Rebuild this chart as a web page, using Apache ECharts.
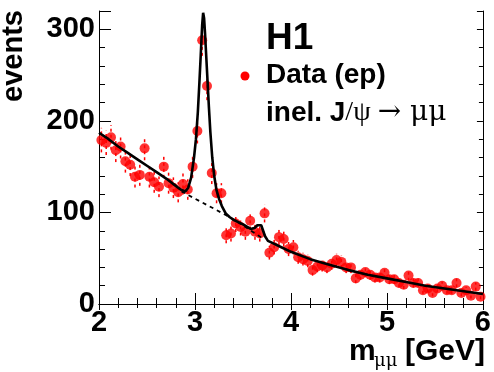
<!DOCTYPE html>
<html><head><meta charset="utf-8">
<script src="https://cdn.jsdelivr.net/npm/echarts@6/dist/echarts.min.js"></script>
<style>html,body{margin:0;padding:0;background:#fff}#c{width:494px;height:372px}</style>
</head><body><div id="c"></div>
<script>
// bin centres (GeV)
var xs = [2.025,2.075,2.125,2.175,2.225,2.275,2.325,2.375,2.425,2.475,2.525,2.575,2.625,2.675,2.725,2.775,2.825,2.875,2.925,2.975,
          3.025,3.075,3.125,3.175,3.225,3.275,3.325,3.375,3.425,3.475,3.525,3.575,3.625,3.675,3.725,3.775,3.825,3.875,3.925,3.975,
          4.025,4.075,4.125,4.175,4.225,4.275,4.325,4.375,4.425,4.475,4.525,4.575,4.625,4.675,4.725,4.775,4.825,4.875,4.925,4.975,
          5.025,5.075,5.125,5.175,5.225,5.275,5.325,5.375,5.425,5.475,5.525,5.575,5.625,5.675,5.725,5.775,5.825,5.875,5.925,5.975];
// events per bin
var vals = [179,176,182,168,172,156,152,139,141,170,139,133,128,150,132,127,122,131,125,150,
            189,288,238,143,121,121,75,77,88,84,79,91,79,77,99,56,62,73,71,60,
            62,51,49,47,37,41,42,40,44,48,46,40,40,28,32,35,32,29,29,34,
            27,27,23,21,31,23,23,15,17,12,17,20,15,15,23,12,15,9,19,8];
// errors
var errs = [13.4,13.3,13.5,13.0,13.1,12.5,12.3,11.8,11.9,13.0,11.8,11.5,11.3,12.2,11.5,11.3,11.0,11.4,11.2,12.2,
            13.7,17.0,15.4,12.0,11.0,11.0,8.7,8.8,9.4,9.2,8.9,9.5,8.9,8.8,9.9,7.5,7.9,8.5,8.4,7.7,
            7.9,7.1,7.0,6.9,6.1,6.4,6.5,6.3,6.6,6.9,6.8,6.3,6.3,5.3,5.7,5.9,5.7,5.4,5.4,5.8,
            5.2,5.2,4.8,4.6,5.6,4.8,4.8,3.9,4.1,3.5,4.1,4.5,3.9,3.9,4.8,3.5,3.9,3.0,4.4,2.8];
// total fit curve
var fitX = [2.0,2.1,2.2,2.3,2.4,2.5,2.6,2.7,2.8,2.85,2.9,2.93,2.96,2.99,3.01,3.03,3.045,3.06,3.075,3.085,3.095,3.105,3.115,3.13,3.145,3.16,3.18,3.2,3.225,3.25,3.28,3.32,3.36,3.4,3.5,3.58,3.62,3.65,3.67,3.69,3.71,3.73,3.76,3.8,3.9,4.0,4.2,4.4,4.6,4.8,5.0,5.2,5.4,5.6,5.8,6.0];
var fitY = [187,180,172,165,158,151,144,137,129,125,123,127,138,160,180,210,240,272,305,318,312,295,275,245,215,188,160,140,124,115,107,99,95,92,87,82,83,86,88,86,80,74,69,67,62,57,49,43,37,32,28,24,20,17,14,11];
// background (dashed)
var bgX = [2.86,3.0,3.2,3.36,3.5,3.6,3.7];
var bgY = [123,115,104,95,86,79,72];
// ticks
var xTicks = [2,3,4,5,6];
var yTicks = [0,100,200,300];

var FONT = '"Liberation Sans", Arial, Helvetica, sans-serif';
var SERIF = '"Liberation Serif", "DejaVu Serif", serif';
var SYM = '"DejaVu Serif", serif';

function zip(a,b){var r=[];for(var i=0;i<a.length;i++)r.push([a[i],b[i]]);return r;}
var errData = [];
for (var i=0;i<xs.length;i++) errData.push([xs[i], vals[i]-errs[i], vals[i]+errs[i]]);

var chart = echarts.init(document.getElementById('c'), null, {renderer:'canvas'});
var axLine = {show:true, lineStyle:{color:'#000', width:1}};
var tickX = {show:true, inside:true, length:11, lineStyle:{color:'#000', width:1}};
var minorX = {show:true, splitNumber:5, length:6, lineStyle:{color:'#000', width:1}};
chart.setOption({
  animation:false,
  backgroundColor:'#fff',
  grid:{left:99, right:10, top:11, bottom:68, show:false},
  xAxis:[
    {type:'value', min:xTicks[0], max:xTicks[xTicks.length-1], interval:1, position:'bottom',
     axisLine:axLine, axisTick:tickX, minorTick:minorX, splitLine:{show:false},
     axisLabel:{color:'#000', fontSize:29, fontWeight:'bold', fontFamily:FONT, margin:4}},
    {type:'value', min:2, max:6, interval:1, position:'top',
     axisLine:axLine, axisTick:{show:true, inside:true, length:6, lineStyle:{color:'#000'}},
     minorTick:{show:true, splitNumber:5, length:4, lineStyle:{color:'#000'}},
     splitLine:{show:false}, axisLabel:{show:false}}
  ],
  yAxis:[
    {type:'value', min:yTicks[0], max:320, interval:100, position:'left',
     axisLine:axLine, axisTick:{show:true, inside:true, length:12, lineStyle:{color:'#000'}},
     minorTick:{show:true, splitNumber:5, length:6, lineStyle:{color:'#000'}}, splitLine:{show:false},
     axisLabel:{color:'#000', fontSize:29, fontWeight:'bold', fontFamily:FONT, margin:4, showMaxLabel:false}},
    {type:'value', min:0, max:320, interval:100, position:'right',
     axisLine:axLine, axisTick:{show:true, inside:true, length:6, lineStyle:{color:'#000'}},
     minorTick:{show:true, splitNumber:5, length:4, lineStyle:{color:'#000'}}, splitLine:{show:false},
     axisLabel:{show:false}}
  ],
  series:[
    {type:'custom', name:'err', data:errData, z:2, silent:true,
     renderItem:function(params, api){
       var p1 = api.coord([api.value(0), api.value(1)]);
       var p2 = api.coord([api.value(0), api.value(2)]);
       return {type:'line', shape:{x1:p1[0], y1:p1[1], x2:p2[0], y2:p2[1]},
               style:{stroke:'#ff0000', lineWidth:1.5, lineDash:[3,3]}};
     }},
    {type:'scatter', name:'Data (ep)', data:zip(xs, vals), symbol:'circle', symbolSize:10,
     itemStyle:{color:'#ff0000'}, z:3},
    {type:'line', name:'bg', data:zip(bgX, bgY), showSymbol:false, symbol:'none',
     lineStyle:{color:'#000', width:1.8, type:[4,4]}, z:4},
    {type:'line', name:'fit', data:zip(fitX, fitY), showSymbol:false, symbol:'none',
     lineStyle:{color:'#000', width:2.6}, z:5}
  ],
  graphic:[
    {type:'text', x:14, y:10, rotation:Math.PI/2,
     style:{text:'events', fontSize:29, fontWeight:'bold', fontFamily:FONT, fill:'#000', align:'right', verticalAlign:'middle'}},
    {type:'text', x:266, y:39,
     style:{text:'H1', fontSize:37, fontWeight:'bold', fontFamily:FONT, fill:'#000', align:'left', verticalAlign:'middle'}},
    {type:'circle', shape:{cx:245, cy:76, r:4.5}, style:{fill:'#ff0000'}},
    {type:'text', x:266, y:75,
     style:{text:'Data (ep)', fontSize:28, fontWeight:'bold', fontFamily:FONT, fill:'#000', align:'left', verticalAlign:'middle'}},
    {type:'text', x:266, y:113,
     style:{text:'{b|inel. J}{s|/ψ }{a|→ μμ}', align:'left', verticalAlign:'middle', fill:'#000',
            rich:{b:{fontSize:28, fontWeight:'bold', fontFamily:FONT, fill:'#000'},
                  s:{fontSize:28, fontFamily:SERIF, fill:'#000'},
                  a:{fontSize:28, fontFamily:SYM, fill:'#000'}}}},
    {type:'text', x:349, y:352,
     style:{text:'m', fontSize:30, fontWeight:'bold', fontFamily:FONT, fill:'#000', align:'left', verticalAlign:'middle'}},
    {type:'text', x:374, y:361,
     style:{text:'μμ', fontSize:18, fontFamily:SYM, fill:'#000', align:'left', verticalAlign:'middle'}},
    {type:'text', x:485, y:352,
     style:{text:'[GeV]', fontSize:30, fontWeight:'bold', fontFamily:FONT, fill:'#000', align:'right', verticalAlign:'middle'}}
  ]
});
</script></body></html>
